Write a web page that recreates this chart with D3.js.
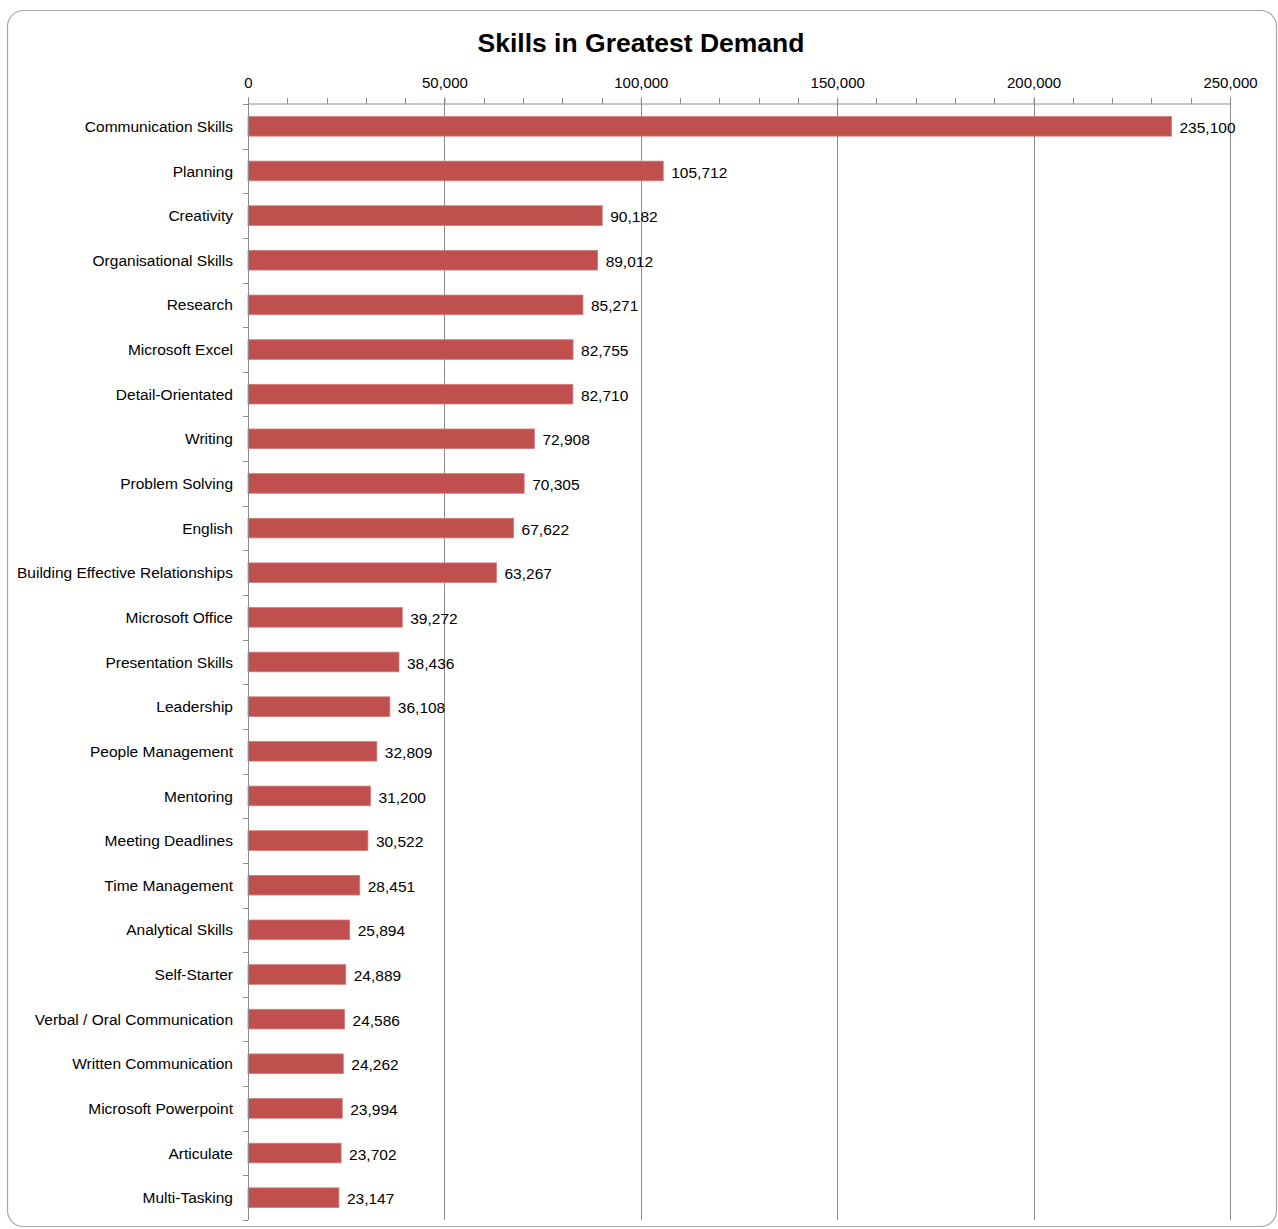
<!DOCTYPE html>
<html>
<head>
<meta charset="utf-8">
<script src="https://cdn.jsdelivr.net/npm/d3@7"></script>
<style>
  body { margin: 0; background: #fff; }
  svg text { font-family: "Liberation Sans", Arial, sans-serif; fill: #000; }
</style>
</head>
<body>
<svg id="chart" width="1278" height="1229"></svg>
<script>
// data
var skills = ["Communication Skills", "Planning", "Creativity", "Organisational Skills", "Research",
  "Microsoft Excel", "Detail-Orientated", "Writing", "Problem Solving", "English",
  "Building Effective Relationships", "Microsoft Office", "Presentation Skills", "Leadership",
  "People Management", "Mentoring", "Meeting Deadlines", "Time Management", "Analytical Skills",
  "Self-Starter", "Verbal / Oral Communication", "Written Communication", "Microsoft Powerpoint",
  "Articulate", "Multi-Tasking"];
var demand = [235100, 105712, 90182, 89012, 85271, 82755, 82710, 72908, 70305, 67622,
  63267, 39272, 38436, 36108, 32809, 31200, 30522, 28451, 25894, 24889, 24586, 24262,
  23994, 23702, 23147];
var majorTicks = [0, 50000, 100000, 150000, 200000, 250000];
var minorTicks = d3.range(0, 250001, 10000);

var svg = d3.select("#chart");
var plotL = 248, plotR = 1230, plotT = 104, plotB = 1220;

// border
svg.append("rect")
  .attr("x", 7.5).attr("y", 10.5)
  .attr("width", 1269).attr("height", 1216)
  .attr("rx", 16).attr("ry", 16)
  .attr("fill", "#fff").attr("stroke", "#a6a6a6").attr("stroke-width", 1.2);

svg.append("text")
  .attr("x", 641).attr("y", 52)
  .attr("text-anchor", "middle")
  .attr("font-size", 26.5).attr("font-weight", "bold")
  .text("Skills in Greatest Demand");

var x = d3.scaleLinear().domain([0, 250000]).range([plotL, plotR]);
var y = d3.scaleBand().domain(skills).range([plotT, plotB]).paddingInner(0.56).paddingOuter(0.28);

// gridlines
svg.append("g").selectAll("line")
  .data(majorTicks.slice(1))
  .enter().append("line")
    .attr("x1", function(d) { return Math.round(x(d)) + 0.5 })
    .attr("x2", function(d) { return Math.round(x(d)) + 0.5 })
    .attr("y1", plotT).attr("y2", plotB)
    .attr("stroke", "#8c8c8c").attr("stroke-width", 1);

// minor ticks on top axis
svg.append("g").selectAll("line")
  .data(minorTicks)
  .enter().append("line")
    .attr("x1", function(d) { return Math.round(x(d)) + 0.5 })
    .attr("x2", function(d) { return Math.round(x(d)) + 0.5 })
    .attr("y1", plotT - 6).attr("y2", plotT)
    .attr("stroke", "#8c8c8c");

// top axis
var xAxis = svg.append("g")
  .attr("transform", "translate(0," + (plotT - 0.5) + ")")
  .call(d3.axisTop(x).tickValues(majorTicks).tickSize(6).tickPadding(10)
    .tickFormat(d3.format(",")));
xAxis.select(".domain").attr("stroke", "#8c8c8c");
xAxis.selectAll(".tick line").attr("stroke", "#8c8c8c");
xAxis.selectAll(".tick text").attr("font-size", 15).attr("font-family", "Liberation Sans");

// bars
svg.append("g").selectAll("rect")
  .data(demand)
  .enter().append("rect")
    .attr("x", plotL)
    .attr("y", function(d, i) { return y(skills[i]) })
    .attr("width", function(d) { return x(d) - plotL })
    .attr("height", y.bandwidth())
    .attr("fill", "#c0504d")
    .attr("stroke", "#d47b79").attr("stroke-width", 0.8);

// value labels
svg.append("g").selectAll("text")
  .data(demand)
  .enter().append("text")
    .attr("x", function(d) { return x(d) + 8 })
    .attr("y", function(d, i) { return y(skills[i]) + y.bandwidth() / 2 + 1 })
    .attr("dy", "0.36em")
    .attr("font-size", 15.5)
    .text(function(d) { return d3.format(",")(d) });

// left axis with ticks at band edges
var step = y.step();
var yAxis = svg.append("g");
yAxis.append("line")
  .attr("x1", plotL + 0.5).attr("x2", plotL + 0.5)
  .attr("y1", plotT).attr("y2", plotB)
  .attr("stroke", "#8c8c8c");
yAxis.selectAll("line.tk")
  .data(d3.range(skills.length + 1))
  .enter().append("line")
    .attr("class", "tk")
    .attr("x1", plotL - 5).attr("x2", plotL)
    .attr("y1", function(d) { return Math.round(plotT + d * step) + 0.5 })
    .attr("y2", function(d) { return Math.round(plotT + d * step) + 0.5 })
    .attr("stroke", "#8c8c8c");
yAxis.selectAll("text")
  .data(skills)
  .enter().append("text")
    .attr("x", plotL - 15)
    .attr("y", function(d) { return y(d) + y.bandwidth() / 2 })
    .attr("dy", "0.36em")
    .attr("text-anchor", "end")
    .attr("font-size", 15.5)
    .text(function(d) { return d });
</script>
</body>
</html>
